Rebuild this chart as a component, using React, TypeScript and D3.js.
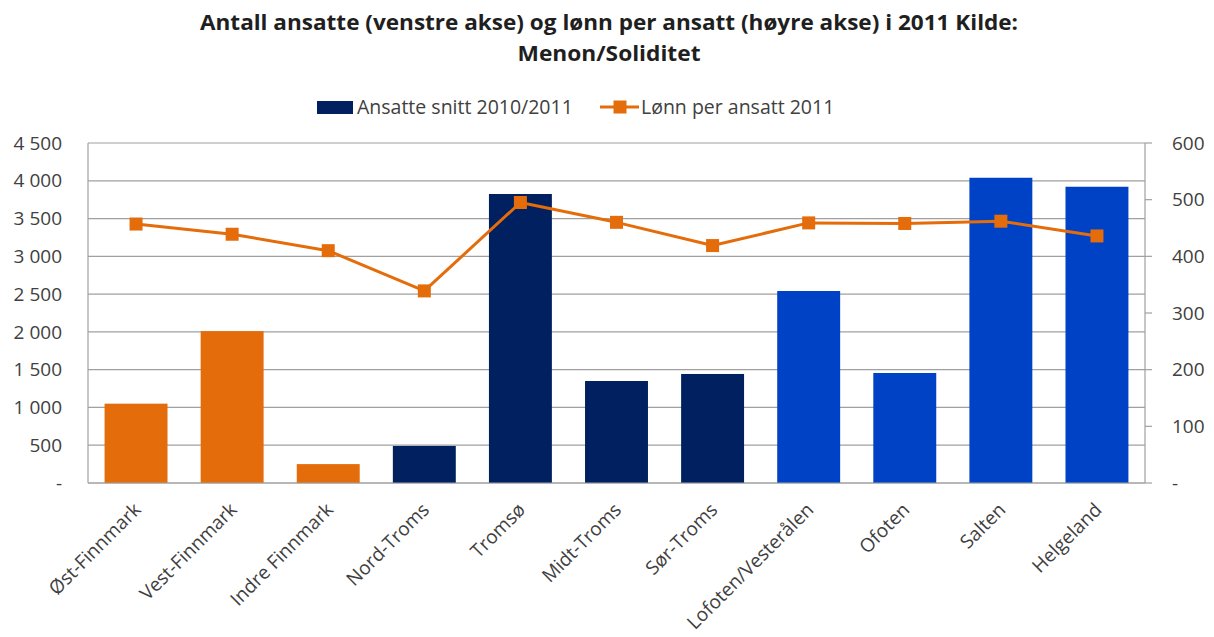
import React from "react";
import * as d3 from "d3";

const categories = [
  "Øst-Finnmark", "Vest-Finnmark", "Indre Finnmark", "Nord-Troms", "Tromsø",
  "Midt-Troms", "Sør-Troms", "Lofoten/Vesterålen", "Ofoten", "Salten", "Helgeland",
];
const counties = [
  "Finnmark", "Finnmark", "Finnmark", "Troms", "Troms",
  "Troms", "Troms", "Nordland", "Nordland", "Nordland", "Nordland",
];
const ansatte = [1050, 2010, 250, 490, 3825, 1350, 1443, 2541, 1456, 4040, 3921];
const lonn = [457, 439, 410, 339, 495, 460, 419, 459, 458, 462, 436];
const leftTicks = [0, 500, 1000, 1500, 2000, 2500, 3000, 3500, 4000, 4500];
const rightTicks = [0, 100, 200, 300, 400, 500, 600];
const seriesNames = ["Ansatte snitt 2010/2011", "Lønn per ansatt 2011"];
const titleLines = [
  "Antall ansatte  (venstre akse) og lønn per ansatt (høyre akse) i 2011 Kilde:",
  "Menon/Soliditet",
];

const W = 1214, H = 637;
const M = { left: 88, right: 1145, top: 143, bottom: 483 };
const FONT = "'Open Sans', 'DejaVu Sans', sans-serif";
const TEXT = "#404040";
const GRID = "#a0a0a0";
const ORANGE = "#E46C0A";

const fmt = (v: number) =>
  v === 0 ? "-" : d3.format(",")(v).replace(/,/g, "\u00a0");

export default function App() {
  const x = d3.scaleBand<string>()
    .domain(categories)
    .range([M.left, M.right])
    .paddingInner(0.345)
    .paddingOuter(0.1725);
  const yL = d3.scaleLinear().domain([0, 4500]).range([M.bottom, M.top]);
  const yR = d3.scaleLinear().domain([0, 600]).range([M.bottom, M.top]);
  const color = d3.scaleOrdinal<string, string>()
    .domain(["Finnmark", "Troms", "Nordland"])
    .range([ORANGE, "#002060", "#0042C5"]);
  const cx = (c: string) => (x(c) as number) + x.bandwidth() / 2;
  const line = d3.line<number>()
    .x((_, i) => cx(categories[i]))
    .y((d) => yR(d));

  return (
    <svg width={W} height={H} style={{ position: "absolute", left: 0, top: 0, background: "#fff" }}
      fontFamily={FONT}>
      {/* title */}
      <text x={609} y={30} textAnchor="middle" fontSize={22} fontWeight="bold" fill="#1f1f1f"
        textLength={818} lengthAdjust="spacingAndGlyphs">{titleLines[0]}</text>
      <text x={609} y={61} textAnchor="middle" fontSize={22} fontWeight="bold" fill="#1f1f1f"
        textLength={183} lengthAdjust="spacingAndGlyphs">{titleLines[1]}</text>

      {/* legend */}
      <rect x={317} y={101} width={36} height={13} fill="#002060" />
      <text x={357} y={114} fontSize={19.5} fill={TEXT}>{seriesNames[0]}</text>
      <line x1={600} x2={639} y1={107} y2={107} stroke={ORANGE} strokeWidth={3} />
      <rect x={613.5} y={100.5} width={13} height={13} fill={ORANGE} />
      <text x={641} y={114} fontSize={19.5} fill={TEXT}>{seriesNames[1]}</text>

      {/* gridlines */}
      {leftTicks.map((t) => (
        <line key={"g" + t} x1={M.left} x2={M.right} y1={yL(t)} y2={yL(t)} stroke={GRID} strokeWidth={1.2} />
      ))}
      {/* left tick labels */}
      {leftTicks.map((t) => (
        <text key={"l" + t} x={62} y={yL(t)} dy="0.35em" textAnchor="end" fontSize={19} fill={TEXT}>{fmt(t)}</text>
      ))}
      {/* right axis */}
      <line x1={M.right} x2={M.right} y1={M.top} y2={M.bottom} stroke={GRID} strokeWidth={1.2} />
      {rightTicks.map((t) => (
        <g key={"r" + t}>
          <line x1={M.right} x2={M.right + 7} y1={yR(t)} y2={yR(t)} stroke={GRID} strokeWidth={1.2} />
          <text x={1172} y={yR(t)} dy="0.35em" fontSize={19} fill={TEXT}>{fmt(t)}</text>
        </g>
      ))}

      {/* bars */}
      {ansatte.map((v, i) => (
        <rect key={"b" + i} x={x(categories[i])} y={yL(v)} width={x.bandwidth()}
          height={yL(0) - yL(v)} fill={color(counties[i])} />
      ))}

      {/* axes */}
      <line x1={M.left} x2={M.left} y1={M.top} y2={M.bottom} stroke={GRID} strokeWidth={1.2} />
      <line x1={M.left} x2={M.right} y1={M.bottom} y2={M.bottom} stroke={GRID} strokeWidth={1.2} />

      {/* line series */}
      <path d={line(lonn) || ""} fill="none" stroke={ORANGE} strokeWidth={3} strokeLinejoin="round" />
      {lonn.map((v, i) => (
        <rect key={"m" + i} x={cx(categories[i]) - 6.5} y={yR(v) - 6.5} width={13} height={13} fill={ORANGE} />
      ))}

      {/* x labels */}
      {categories.map((c) => (
        <text key={"x" + c} transform={`translate(${cx(c) + 6},${511}) rotate(-45)`} textAnchor="end"
          fontSize={19} fill={TEXT}>{c}</text>
      ))}
    </svg>
  );
}
